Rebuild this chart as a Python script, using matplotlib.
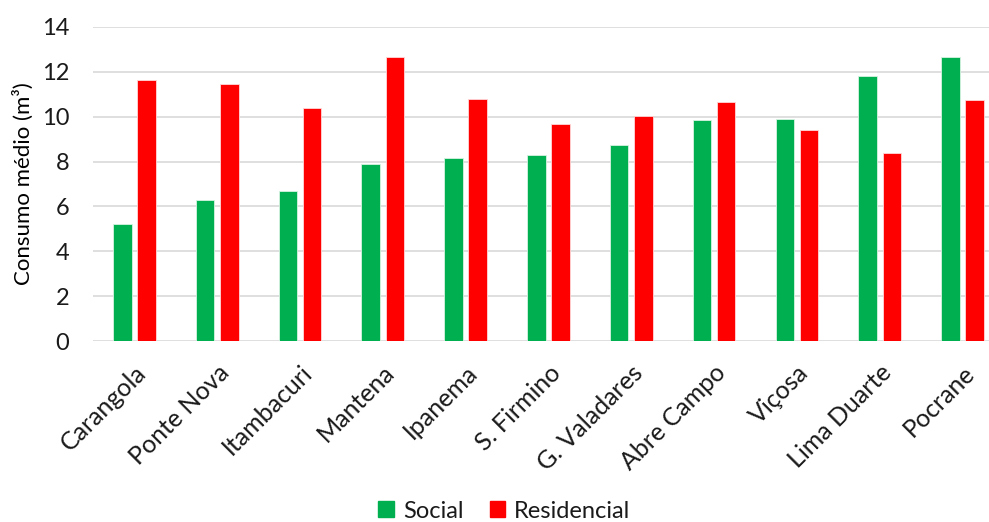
import numpy as np
import matplotlib.pyplot as plt
from matplotlib.patches import Patch

cidades = ['Carangola', 'Ponte Nova', 'Itambacuri', 'Mantena', 'Ipanema',
           'S. Firmino', 'G. Valadares', 'Abre Campo', 'Viçosa',
           'Lima Duarte', 'Pocrane']
social = [5.22, 6.30, 6.70, 7.90, 8.14, 8.30, 8.75, 9.83, 9.88, 11.79, 12.64]
residencial = [11.63, 11.47, 10.38, 12.64, 10.78, 9.67, 10.03, 10.63, 9.39, 8.38, 10.75]

plt.rcParams['font.family'] = ['Lato', 'DejaVu Sans']
plt.rcParams['text.color'] = '#1a1a1a'

fig = plt.figure(figsize=(9.89, 5.22), dpi=100)
ax = fig.add_axes([0.094, 0.346, 0.906, 0.603])

x = np.arange(len(cidades))
w = 0.223
verde = '#00B050'
vermelho = '#FF0000'
ax.bar(x - 0.146, social, w, color=verde, edgecolor='#d8f3e2', linewidth=0.6, zorder=3)
ax.bar(x + 0.146, residencial, w, color=vermelho, edgecolor='#ffd8d8', linewidth=0.6, zorder=3)

ax.set_xlim(-0.5, 10.32)
ax.set_ylim(0, 14)
ax.set_yticks(range(0, 15, 2))
ax.yaxis.grid(True, color='#d9d9d9', linewidth=1.2, zorder=0)
ax.set_axisbelow(True)
for s in ax.spines.values():
    s.set_visible(False)
ax.tick_params(axis='both', length=0, colors='#1a1a1a')
ax.tick_params(axis='y', labelsize=17, pad=17)

ax.set_xticks(x)
ax.set_xticklabels(cidades, rotation=45, ha='right', rotation_mode='anchor')
ax.tick_params(axis='x', labelsize=18, pad=14)

ax.set_ylabel('Consumo médio (m³)', fontsize=16, labelpad=6)

handles = [Patch(color=verde, label='Social'), Patch(color=vermelho, label='Residencial')]
fig.legend(handles=handles, loc='lower center', ncol=2, frameon=False,
           fontsize=17, bbox_to_anchor=(0.51, -0.04),
           handlelength=0.65, handleheight=0.65, handletextpad=0.4, columnspacing=1.1)

fig.savefig('out.png', dpi=100)
